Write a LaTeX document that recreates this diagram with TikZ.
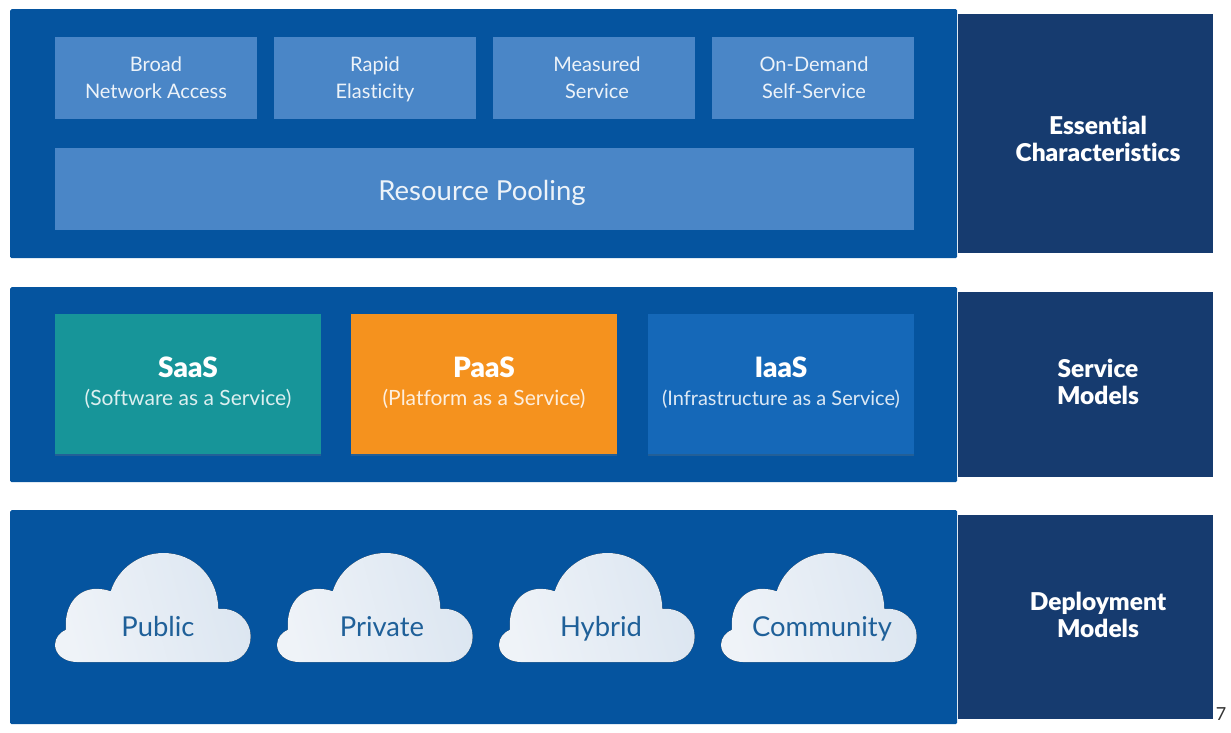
\documentclass[tikz,border=0pt]{standalone}
\usepackage{fontspec}
\setmainfont{Lato}[Ligatures=NoCommon]
\newfontfamily\heavyfont{Lato Black}[Ligatures=NoCommon]
\usetikzlibrary{positioning,shadows}
\definecolor{panelblue}{HTML}{05549F}
\definecolor{sidenavy}{HTML}{163B6F}
\definecolor{tileblue}{HTML}{4A86C7}
\definecolor{saasteal}{HTML}{179599}
\definecolor{paasorange}{HTML}{F5921E}
\definecolor{iaasblue}{HTML}{1568B8}
\definecolor{cloudtext}{HTML}{1F6099}
\definecolor{cloudleft}{HTML}{EFF3F8}
\definecolor{cloudright}{HTML}{DCE6F1}
\tikzset{
  panelbox/.style={fill=panelblue,rounded corners=1.5pt,inner sep=0pt,anchor=north west,minimum width=947pt},
  sidebox/.style={fill=sidenavy,inner sep=0pt,anchor=north west,minimum width=255pt},
  sidelabel/.style={text=white,align=center,font=\fontsize{24.5}{27}\selectfont\heavyfont},
  tilebox/.style={fill=tileblue,inner sep=0pt,anchor=north west,minimum width=202pt,minimum height=82pt},
  tilelabel/.style={text=white!90!tileblue,font=\fontsize{20}{27}\selectfont,align=center,
    execute at begin node=\strut,execute at end node=\strut},
  modelbox/.style={inner sep=0pt,anchor=north west,minimum width=266pt,minimum height=140pt,
    drop shadow={shadow xshift=0pt,shadow yshift=-2pt,opacity=.25}},
  modeltitle/.style={text=white,font=\fontsize{28}{30}\selectfont\heavyfont},
  modelnote/.style={text=white,opacity=.85,font=\fontsize{21}{27}\selectfont},
  cloudlabel/.style={text=cloudtext,font=\fontsize{27.4}{30}\selectfont,text height=.75em,text depth=.25em},
  pics/cloudshape/.style={code={
    \fill[shade,shading=axis,left color=cloudleft,right color=cloudright,shading angle=105]
      (21.7,109) .. controls (9,109) and (0,101) .. (0,91.7)
      .. controls (0,85) and (5,79) .. (11,76.7)
      .. controls (9,55) and (20,38) .. (38,36)
      .. controls (45,35.5) and (51,36.5) .. (55.7,38.3)
      .. controls (63,15) and (85,0) .. (108.3,0)
      .. controls (140,0) and (163,25) .. (163.3,56)
      .. controls (182,54) and (195.7,68) .. (195.7,83.3)
      .. controls (195.7,98) and (185,109) .. (171.7,109) -- cycle;
  }}
}
\begin{document}
\begin{tikzpicture}[x=1pt,y=-1pt]
  \useasboundingbox (0,0) rectangle (1231,733);
  % side bands
  \node[sidebox,minimum height=239pt] (essential) at (958,14) {};
  \node[sidebox,minimum height=185pt] (service) at (958,292) {};
  \node[sidebox,minimum height=204pt] (deployment) at (958,515) {};
  \node[sidelabel] (essentiallabel) at (1098,138.5) {Essential\\Characteristics};
  \node[sidelabel] (servicelabel) at (1098,381.5) {Service\\Models};
  \node[sidelabel] (deploymentlabel) at (1098,614.5) {Deployment\\Models};
  % panels
  \node[panelbox,minimum height=249pt] (top) at (10,9) {};
  \node[panelbox,minimum height=195pt] (middle) at (10,287) {};
  \node[panelbox,minimum height=214pt] (bottom) at (10,510) {};
  % top row
  \node[tilebox] (broad) at (55,37) {};
  \node[tilebox] (rapid) at (274,37) {};
  \node[tilebox] (measured) at (493,37) {};
  \node[tilebox] (ondemand) at (712,37) {};
  \node[tilebox,minimum width=859pt] (pooling) at (55,148) {};
  \node[tilelabel] (broadlabel) at (156,81.5) {Broad\\Network Access};
  \node[tilelabel] (rapidlabel) at (375,81.5) {Rapid\\Elasticity};
  \node[tilelabel] (measuredlabel) at (597,81.5) {Measured\\Service};
  \node[tilelabel] (ondemandlabel) at (814,81.5) {On-Demand\\Self-Service};
  \node[tilelabel,font=\fontsize{27.5}{30}\selectfont] (poolinglabel) at (482,194) {Resource Pooling};
  % service models
  \node[modelbox,fill=saasteal] (saas) at (55,314) {};
  \node[modelbox,fill=paasorange] (paas) at (351,314) {};
  \node[modelbox,fill=iaasblue] (iaas) at (648,314) {};
  \node[modeltitle] (saastitle) at (188,367) {SaaS};
  \node[modeltitle] (paastitle) at (484,367) {PaaS};
  \node[modeltitle] (iaastitle) at (781,367) {IaaS};
  \node[modelnote] (saasnote) at (188,399) {(Software as a Service)};
  \node[modelnote] (paasnote) at (484,399) {(Platform as a Service)};
  \node[modelnote,font=\fontsize{20}{27}\selectfont] (iaasnote) at (781,399) {(Infrastructure as a Service)};
  % clouds
  \pic at (55,553) {cloudshape};
  \pic at (277,553) {cloudshape};
  \pic at (499,553) {cloudshape};
  \pic at (721,553) {cloudshape};
  \node[cloudlabel] (public) at (158,634) {Public};
  \node[cloudlabel] (private) at (382,634) {Private};
  \node[cloudlabel] (hybrid) at (601,634) {Hybrid};
  \node[cloudlabel] (community) at (822,634) {Community};
  \node[text=black!80,font=\fontsize{18}{20}\selectfont] (pagenum) at (1221,714) {7};
\end{tikzpicture}
\end{document}
